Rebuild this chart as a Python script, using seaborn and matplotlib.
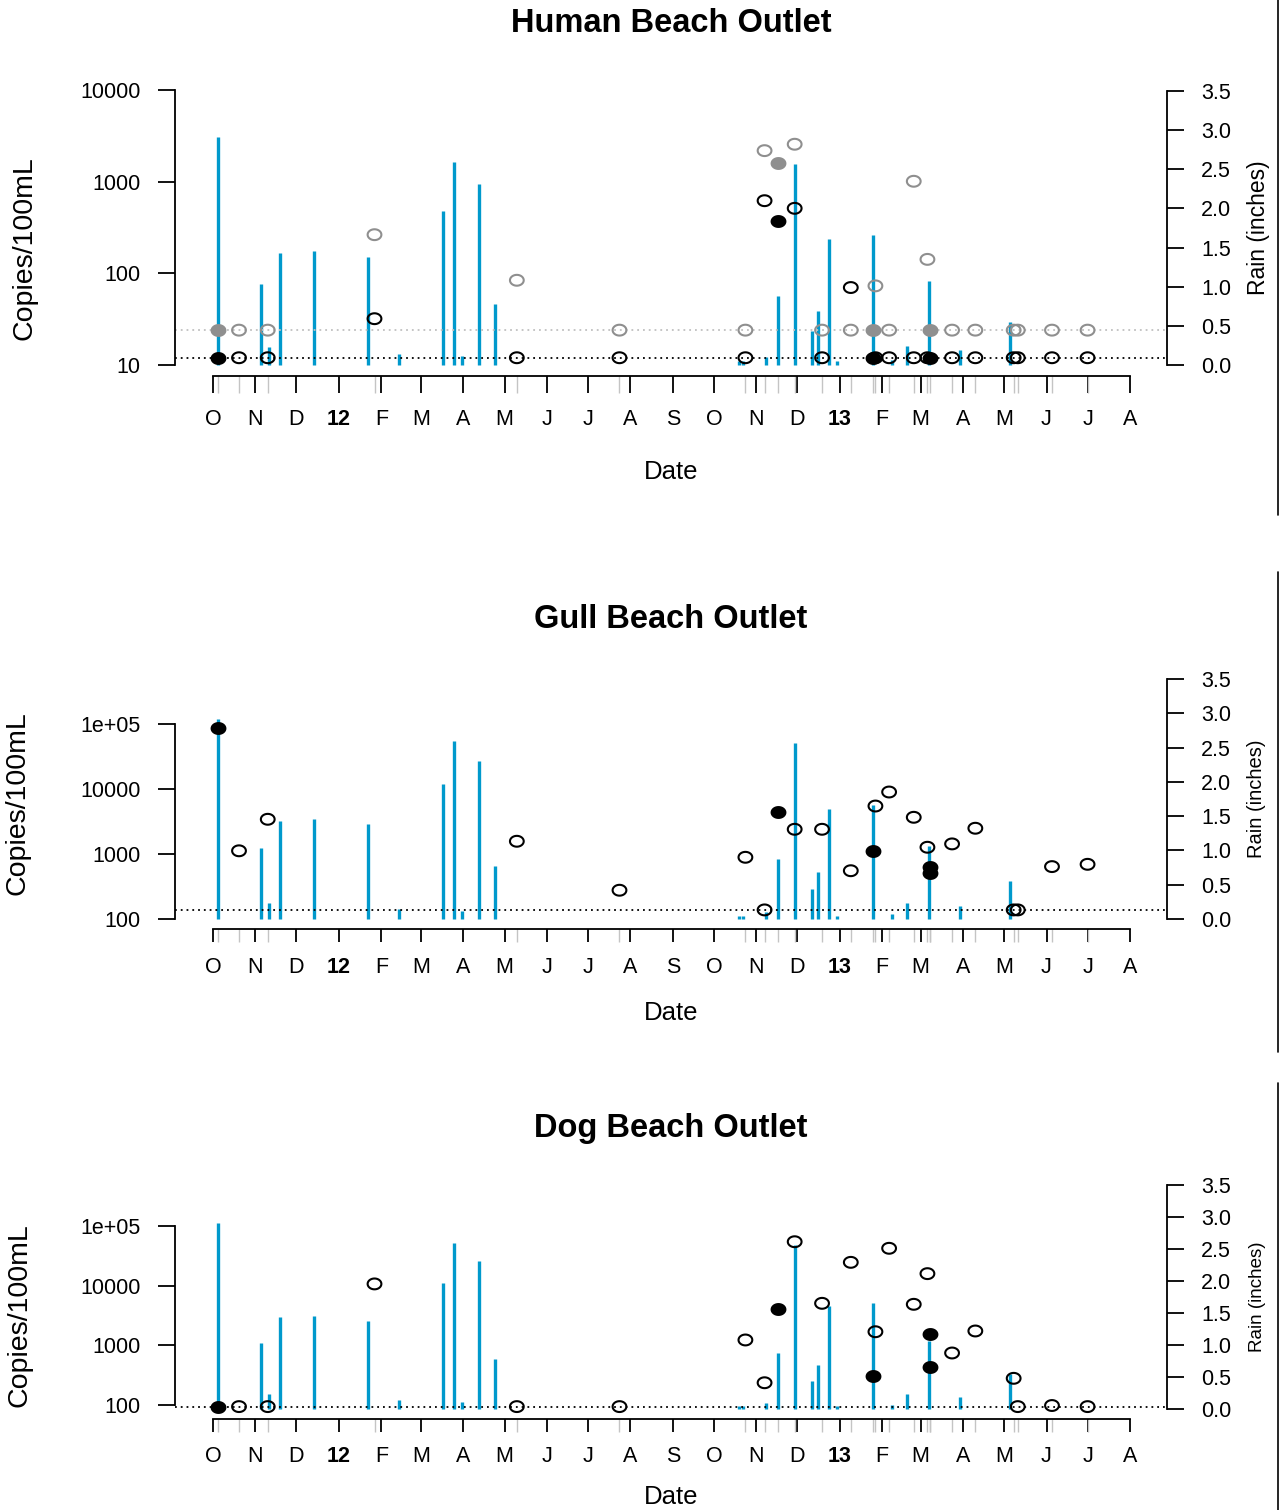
import numpy as np
import pandas as pd
import matplotlib
matplotlib.use("Agg")
import matplotlib.pyplot as plt
import matplotlib.dates as mdates
from matplotlib.path import Path
from matplotlib.markers import MarkerStyle
from matplotlib.lines import Line2D
from matplotlib.ticker import NullLocator
import seaborn as sns

# Rain (inches) - same record under all three panels
rain_dates = ["2011-10-05", "2011-11-05", "2011-11-11", "2011-11-19", "2011-12-14",
              "2012-01-22", "2012-02-14", "2012-03-17", "2012-03-25", "2012-03-31",
              "2012-04-12", "2012-04-24", "2012-10-19", "2012-10-22", "2012-11-08",
              "2012-11-17", "2012-11-29", "2012-12-12", "2012-12-16", "2012-12-24",
              "2012-12-30", "2013-01-25", "2013-02-08", "2013-02-19", "2013-03-07",
              "2013-03-30", "2013-05-05"]
rain_inches = [2.91, 1.03, 0.23, 1.43, 1.46, 1.38, 0.14, 1.97, 2.59, 0.11, 2.31, 0.78,
               0.05, 0.05, 0.10, 0.88, 2.57, 0.44, 0.69, 1.61, 0.05, 1.66, 0.07, 0.24,
               1.07, 0.19, 0.55]

# Human marker: two assays (black / grey), non-detects sit on the LOD line
human_dates = ["2011-10-05", "2011-10-20", "2011-11-10", "2012-01-27", "2012-05-10",
               "2012-07-24", "2012-10-24", "2012-11-07", "2012-11-17", "2012-11-29",
               "2012-12-19", "2013-01-09", "2013-01-25", "2013-01-27", "2013-02-06",
               "2013-02-24", "2013-03-06", "2013-03-08", "2013-03-24", "2013-04-10",
               "2013-05-08", "2013-05-11", "2013-06-05", "2013-07-01"]
human_black = [12, 12, 12, 32, 12, 12, 12, 620, 372, 512, 12, 70, 12, 12, 12, 12,
               12, 12, 12, 12, 12, 12, 12, 12]
human_grey = [24, 24, 24, 264, 84, 24, 24, 2180, 1585, 2560, 24, 24, 24, 73, 24, 1010,
              142, 24, 24, 24, 24, 24, 24, 24]
human_filled = [1, 0, 0, 0, 0, 0, 0, 0, 1, 0, 0, 0, 1, 0, 0, 0, 0, 1, 0, 0, 0, 0, 0, 0]
human_black_lod = 12
human_grey_lod = 24

# Gull marker
gull_dates = ["2011-10-05", "2011-10-20", "2011-11-10", "2012-05-10", "2012-07-24",
              "2012-10-24", "2012-11-07", "2012-11-17", "2012-11-29", "2012-12-19",
              "2013-01-09", "2013-01-25", "2013-01-27", "2013-02-06", "2013-02-24",
              "2013-03-06", "2013-03-08", "2013-03-08", "2013-03-24", "2013-04-10",
              "2013-05-08", "2013-05-11", "2013-06-05", "2013-07-01"]
gull_copies = [87700, 1120, 3420, 1570, 277, 890, 138, 4390, 2400, 2400, 553, 1120,
               5470, 8990, 3670, 1270, 640, 516, 1430, 2490, 138, 138, 640, 694]
gull_filled = [1, 0, 0, 0, 0, 0, 0, 1, 0, 0, 0, 1, 0, 0, 0, 0, 1, 1, 0, 0, 0, 0, 0, 0]
gull_lod = 138

# Dog marker
dog_dates = ["2011-10-05", "2011-10-20", "2011-11-10", "2012-01-27", "2012-05-10",
             "2012-07-24", "2012-10-24", "2012-11-07", "2012-11-17", "2012-11-29",
             "2012-12-19", "2013-01-09", "2013-01-25", "2013-01-27", "2013-02-06",
             "2013-02-24", "2013-03-06", "2013-03-08", "2013-03-08", "2013-03-24",
             "2013-04-10", "2013-05-08", "2013-05-11", "2013-06-05", "2013-07-01"]
dog_copies = [94, 94, 94, 10700, 94, 94, 1230, 236, 4060, 54500, 5060, 24600, 310,
              1690, 42300, 4870, 15900, 1550, 428, 744, 1740, 280, 94, 98, 94]
dog_filled = [1, 0, 0, 0, 0, 0, 0, 0, 1, 0, 0, 0, 1, 0, 0, 0, 0, 1, 1, 0, 0, 0, 0, 0, 0]
dog_lod = 94

month_labels = ["O", "N", "D", "12", "F", "M", "A", "M", "J", "J", "A", "S",
                "O", "N", "D", "13", "F", "M", "A", "M", "J", "J", "A"]
rain_ticks = [0.0, 0.5, 1.0, 1.5, 2.0, 2.5, 3.0, 3.5]

RAIN = "#0099cc"
GREY = "#8f8f8f"

sns.set_style("ticks")
plt.rcParams["font.family"] = ["Liberation Sans", "DejaVu Sans"]
plt.rcParams["text.color"] = "black"
plt.rcParams["xtick.color"] = "black"
plt.rcParams["ytick.color"] = "black"

W, H = 1281, 1510
fig = plt.figure(figsize=(W / 100, H / 100), dpi=100)


def dnum(dates):
    return mdates.date2num(pd.to_datetime(dates).to_pydatetime())


# x scale: Oct 1 2011 sits at px 213, Aug 1 2013 at px 1130, plot box 175..1167
AX_L, AX_R = 175, 1167
x0, x1 = dnum(["2011-10-01", "2013-08-01"])
dpp = (x1 - x0) / (1130 - 213)
xlim = (x0 - (213 - AX_L) * dpp, x1 + (AX_R - 1130) * dpp)
month_ticks = dnum(pd.date_range("2011-10-01", "2013-08-01", freq="MS"))

# ellipse marker (the original is stretched sideways)
t = np.linspace(0, 2 * np.pi, 60)
ELLIPSE = MarkerStyle(Path(np.column_stack([1.27 * np.cos(t), np.sin(t)]), closed=True))


def points(ax, dates, values, filled, color):
    df = pd.DataFrame({"x": dnum(dates), "y": values, "filled": filled})
    sns.scatterplot(data=df[df.filled == 0], x="x", y="y", ax=ax, marker=ELLIPSE, s=98,
                    facecolor="none", edgecolor=color, linewidth=1.5, zorder=5)
    sns.scatterplot(data=df[df.filled == 1], x="x", y="y", ax=ax, marker=ELLIPSE, s=98,
                    facecolor=color, edgecolor=color, linewidth=1.5, zorder=6)


def panel(top, bot, left_map, right_map, yticks, ylabels, title, title_y, date_y,
          ylab_xy, rlab_xy, rlab_size, rug_dates, xtick_len, xpad):
    ax = fig.add_axes([AX_L / W, 1 - bot / H, (AX_R - AX_L) / W, (bot - top) / H])
    ax2 = ax.twinx()
    ax.set_zorder(ax2.get_zorder() + 1)
    ax.patch.set_visible(False)

    # rain bars
    ax2.vlines(dnum(rain_dates), 0, rain_inches, color=RAIN, lw=2.4)

    sns.rugplot(x=dnum(rug_dates), ax=ax, height=-xtick_len * 1.39 / (bot - top),
                clip_on=False, color="#c4c4c4", lw=1.8, expand_margins=False)

    # left log axis limits from pixel positions of two ticks
    (v_lo, p_lo), (v_hi, p_hi) = left_map
    per_px = (np.log10(v_hi) - np.log10(v_lo)) / (p_lo - p_hi)
    ax.set_yscale("log")
    ylim = (10 ** (np.log10(v_lo) - (bot - p_lo) * per_px),
            10 ** (np.log10(v_hi) + (p_hi - top) * per_px))
    (r_lo, q_lo), (r_hi, q_hi) = right_map
    per_px2 = (r_hi - r_lo) / (q_lo - q_hi)
    rlim = (r_lo - (bot - q_lo) * per_px2, r_hi + (q_hi - top) * per_px2)

    ax.set_xlim(xlim)
    ax.set_ylim(ylim)
    ax2.set_ylim(rlim)
    ax.set_xlabel("")
    ax.set_ylabel("")

    ax.set_yticks(yticks)
    ax.set_yticklabels(ylabels)
    ax.yaxis.set_minor_locator(NullLocator())
    ax.set_xticks(month_ticks)
    ax.set_xticklabels(month_labels)
    for lab in ax.get_xticklabels():
        if lab.get_text() in ("12", "13"):
            lab.set_fontweight("bold")
    ax2.set_yticks(rain_ticks)
    ax2.set_yticklabels([f"{v:.1f}" for v in rain_ticks])

    for s in ["top", "right"]:
        ax.spines[s].set_visible(False)
    for s in ["top", "left", "bottom"]:
        ax2.spines[s].set_visible(False)
    ax.spines["left"].set_bounds(yticks[0], yticks[-1])
    ax.spines["bottom"].set_bounds(x0, x1)
    ax2.spines["right"].set_bounds(0, 3.5)
    for sp in [ax.spines["left"], ax.spines["bottom"], ax2.spines["right"]]:
        sp.set_linewidth(1.3)
        sp.set_color("black")

    ax.tick_params(axis="y", which="major", length=12, width=1.3, pad=13,
                   labelsize=15.5, color="black", labelcolor="black")
    ax.tick_params(axis="x", length=xtick_len, width=1.3, pad=xpad, labelsize=15.5,
                   color="black", labelcolor="black")
    ax2.tick_params(axis="y", length=12.5, width=1.3, pad=12, labelsize=15.5,
                    color="black", labelcolor="black")

    fig.text(671 / W, 1 - title_y / H, title, ha="center", va="center",
             fontsize=23.5, fontweight="bold")
    fig.text(671 / W, 1 - date_y / H, "Date", ha="center", va="center", fontsize=18.5)
    fig.text(ylab_xy[0] / W, 1 - ylab_xy[1] / H, "Copies/100mL", rotation=90,
             ha="center", va="center", fontsize=20.5)
    fig.text(rlab_xy[0] / W, 1 - rlab_xy[1] / H, "Rain (inches)", rotation=90,
             ha="center", va="center", fontsize=rlab_size)
    return ax


# -----------------------------
# Human Beach Outlet
# -----------------------------
ax = panel(79, 376, ((10, 365), (10000, 90)), ((0, 365), (3.5, 91)),
           [10, 100, 1000, 10000], ["10", "100", "1000", "10000"],
           "Human Beach Outlet", 23, 472, (25, 248), (1258, 228), 16.5, human_dates,
           12, 11.5)
ax.axhline(human_grey_lod, color="#c0c0c0", lw=1.3, ls=(0, (1, 2.2)), zorder=2)
ax.axhline(human_black_lod, color="black", lw=1.3, ls=(0, (1, 2.2)), zorder=2)
points(ax, human_dates, human_grey, human_filled, GREY)
points(ax, human_dates, human_black, human_filled, "black")
ax.set_xlabel("")
ax.set_ylabel("")

# -----------------------------
# Gull Beach Outlet
# -----------------------------
ax = panel(669, 929, ((100, 919), (1e5, 724)), ((0, 919), (3.5, 679)),
           [100, 1000, 10000, 1e5], ["100", "1000", "10000", "1e+05"],
           "Gull Beach Outlet", 620, 1013, (18, 803), (1257, 799), 14.5, gull_dates,
           9, 11)
ax.axhline(gull_lod, color="black", lw=1.3, ls=(0, (1, 2.2)), zorder=2)
points(ax, gull_dates, gull_copies, gull_filled, "black")
ax.set_xlabel("")
ax.set_ylabel("")

# -----------------------------
# Dog Beach Outlet
# -----------------------------
ax = panel(1176, 1419, ((100, 1405), (1e5, 1226)), ((0, 1409), (3.5, 1185)),
           [100, 1000, 10000, 1e5], ["100", "1000", "10000", "1e+05"],
           "Dog Beach Outlet", 1129, 1497, (20, 1315), (1257, 1297), 13.5, dog_dates,
           9, 10.5)
ax.axhline(dog_lod, color="black", lw=1.3, ls=(0, (1, 2.2)), zorder=2)
points(ax, dog_dates, dog_copies, dog_filled, "black")
ax.set_xlabel("")
ax.set_ylabel("")

# frame edges left over from the pasted panels
for y_a, y_b in [(0, 515), (572, 1052), (1083, 1510)]:
    fig.add_artist(Line2D([1278 / W, 1278 / W], [1 - y_a / H, 1 - y_b / H],
                          transform=fig.transFigure, color="black", lw=1.2))

fig.savefig("out.png", dpi=100)
